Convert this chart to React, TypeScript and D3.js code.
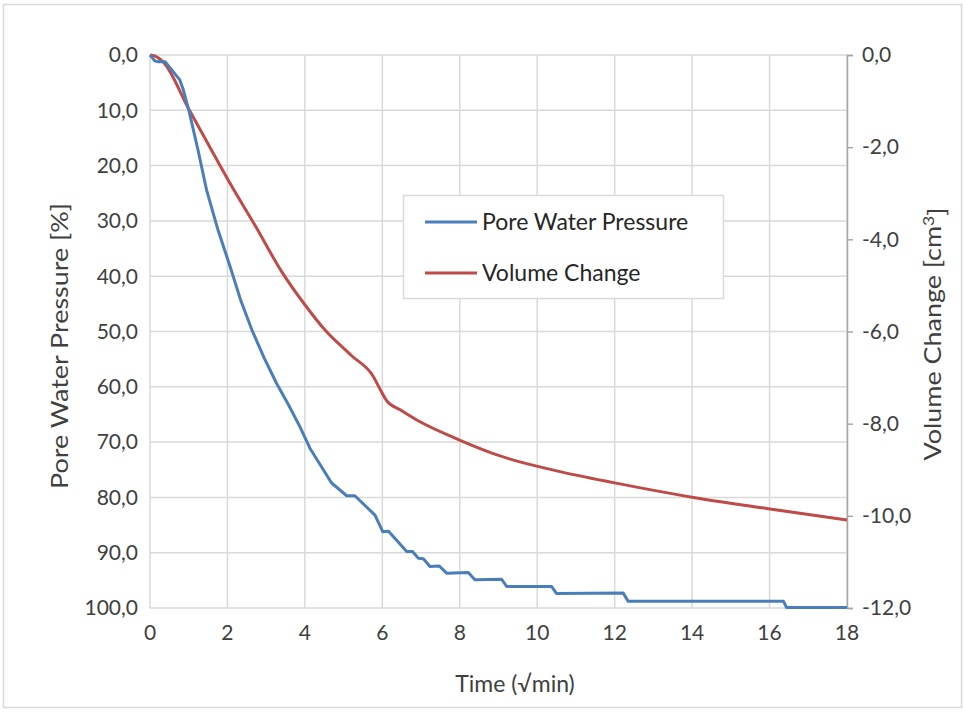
import React, { useEffect, useRef } from 'react';
import * as d3 from 'd3';

// time axis in sqrt(min)
const pwpTime = [0, 0.13, 0.2, 0.39, 0.77, 0.86, 1.01, 1.25, 1.46, 1.75, 2.07, 2.35, 2.63, 2.95, 3.27, 3.58, 3.87, 4.13, 4.69, 5.08, 5.29, 5.81, 6.01, 6.16, 6.63, 6.78, 6.93, 7.06, 7.23, 7.47, 7.66, 8.22, 8.39, 9.08, 9.21, 10.37, 10.5, 12.22, 12.35, 16.36, 16.44, 18];
const pwpValue = [0, 1.1, 1.2, 1.2, 4.5, 6.3, 10.2, 17.5, 24.4, 31.5, 38.3, 44.5, 49.7, 54.8, 59.4, 63.3, 67.2, 71.1, 77.4, 79.7, 79.7, 83.2, 86.2, 86.1, 89.8, 89.8, 91.0, 91.1, 92.5, 92.4, 93.7, 93.6, 94.9, 94.8, 96.1, 96.1, 97.4, 97.3, 98.8, 98.8, 99.9, 99.9];

const volTime = [0, 0.12, 0.34, 1.0, 1.5, 2.07, 2.7, 3.4, 4.0, 4.52, 5.2, 5.77, 5.94, 6.11, 6.46, 6.89, 8.01, 9.04, 10.59, 11.97, 14.03, 15.92, 18];
const volValue = [0, -0.02, -0.15, -1.17, -1.93, -2.79, -3.68, -4.7, -5.42, -5.97, -6.52, -6.98, -7.25, -7.5, -7.7, -7.92, -8.36, -8.7, -9.04, -9.28, -9.6, -9.84, -10.09];

const xTicks = [0, 2, 4, 6, 8, 10, 12, 14, 16, 18];
const leftTicks = [0, 10, 20, 30, 40, 50, 60, 70, 80, 90, 100];
const rightTicks = [0, -2, -4, -6, -8, -10, -12];

const seriesNames = ['Pore Water Pressure', 'Volume Change'];
const colors = ['#4a7ebb', '#be4b48'];

const fmt = (v: number) => v.toFixed(1).replace('.', ',');

const App = () => {
  const ref = useRef<SVGSVGElement>(null);

  useEffect(() => {
    const svg = d3.select(ref.current);
    svg.selectAll('*').remove();
    const font = 'Lato, "Open Sans", sans-serif';
    const tickSize = '21px';

    const left = 150, right = 847, top = 55, bottom = 608;
    const x = d3.scaleLinear().domain([0, 18]).range([left, right]);
    const yL = d3.scaleLinear().domain([0, 100]).range([top, bottom]);
    const yR = d3.scaleLinear().domain([0, -12]).range([top, bottom]);

    svg.append('rect')
      .attr('x', 3.5).attr('y', 4.5).attr('width', 958).attr('height', 703)
      .attr('fill', '#fff').attr('stroke', '#d9d9d9').attr('stroke-width', 1.5);

    // gridlines
    const grid = svg.append('g').attr('stroke', '#d9d9d9').attr('stroke-width', 1.5);
    grid.selectAll('line.v').data(xTicks).join('line')
      .attr('x1', d => x(d)).attr('x2', d => x(d))
      .attr('y1', top).attr('y2', bottom);
    grid.selectAll('line.h').data(leftTicks).join('line')
      .attr('class', 'h')
      .attr('x1', left).attr('x2', right)
      .attr('y1', d => yL(d)).attr('y2', d => yL(d));

    // right axis
    const ra = svg.append('g')
      .attr('transform', 'translate(' + right + ',0)')
      .call(d3.axisRight(yR).tickValues(rightTicks).tickSize(6).tickFormat(d => fmt(+d)));
    ra.select('.domain').attr('stroke', '#a6a6a6').attr('stroke-width', 1.5);
    ra.selectAll('.tick line').attr('stroke', '#a6a6a6').attr('stroke-width', 1.5);
    ra.selectAll('.tick text')
      .attr('x', 15).attr('fill', '#404040')
      .style('font-family', font).style('font-size', tickSize);

    // left axis labels
    svg.append('g').selectAll('text').data(leftTicks).join('text')
      .attr('x', 138).attr('y', d => yL(d)).attr('dy', '0.35em')
      .attr('text-anchor', 'end').attr('fill', '#404040')
      .style('font-family', font).style('font-size', tickSize)
      .text(d => fmt(d));

    // bottom labels
    svg.append('g').selectAll('text').data(xTicks).join('text')
      .attr('x', d => x(d)).attr('y', 640)
      .attr('text-anchor', 'middle').attr('fill', '#404040')
      .style('font-family', font).style('font-size', tickSize)
      .text(d => d);

    svg.append('text')
      .attr('x', 515).attr('y', 692).attr('text-anchor', 'middle')
      .attr('fill', '#404040').style('font-family', font).style('font-size', '23px')
      .text('Time (√min)');

    svg.append('text')
      .attr('transform', 'translate(68,346) rotate(-90) scale(1.17,1)')
      .attr('text-anchor', 'middle').attr('fill', '#404040')
      .style('font-family', font).style('font-size', '23px')
      .text('Pore Water Pressure [%]');

    const rl = svg.append('text')
      .attr('transform', 'translate(941,334) rotate(-90) scale(1.17,1)')
      .attr('text-anchor', 'middle').attr('fill', '#404040')
      .style('font-family', font).style('font-size', '23px');
    rl.append('tspan').text('Volume Change [cm');
    rl.append('tspan').attr('dy', '-0.45em').style('font-size', '15px').text('3');
    rl.append('tspan').attr('dy', '0.45em').text(']');

    // series
    const pwp = pwpTime.map((t, i) => [x(t), yL(pwpValue[i])] as [number, number]);
    const vol = volTime.map((t, i) => [x(t), yR(volValue[i])] as [number, number]);
    const line = d3.line().curve(d3.curveMonotoneX);
    const lineLin = d3.line();

    svg.append('path').attr('d', line(vol)).attr('fill', 'none')
      .attr('stroke', colors[1]).attr('stroke-width', 3).attr('stroke-linejoin', 'round');
    svg.append('path').attr('d', lineLin(pwp)).attr('fill', 'none')
      .attr('stroke', colors[0]).attr('stroke-width', 3).attr('stroke-linejoin', 'round');

    // legend
    const lg = svg.append('g');
    lg.append('rect').attr('x', 403.5).attr('y', 195.5).attr('width', 320).attr('height', 103)
      .attr('fill', '#fff').attr('stroke', '#d9d9d9').attr('stroke-width', 1.5);
    seriesNames.forEach((name, i) => {
      const yy = 222 + i * 51;
      lg.append('line').attr('x1', 425).attr('x2', 477).attr('y1', yy).attr('y2', yy)
        .attr('stroke', colors[i]).attr('stroke-width', 3);
      lg.append('text').attr('x', 482).attr('y', yy).attr('dy', '0.35em')
        .attr('fill', '#262626').style('font-family', font).style('font-size', '23px')
        .text(name);
    });
  }, []);

  return (
    <div style={{ position: 'absolute', left: 0, top: 0 }}>
      <svg ref={ref} width={965} height={714}></svg>
    </div>
  );
};

export default App;
